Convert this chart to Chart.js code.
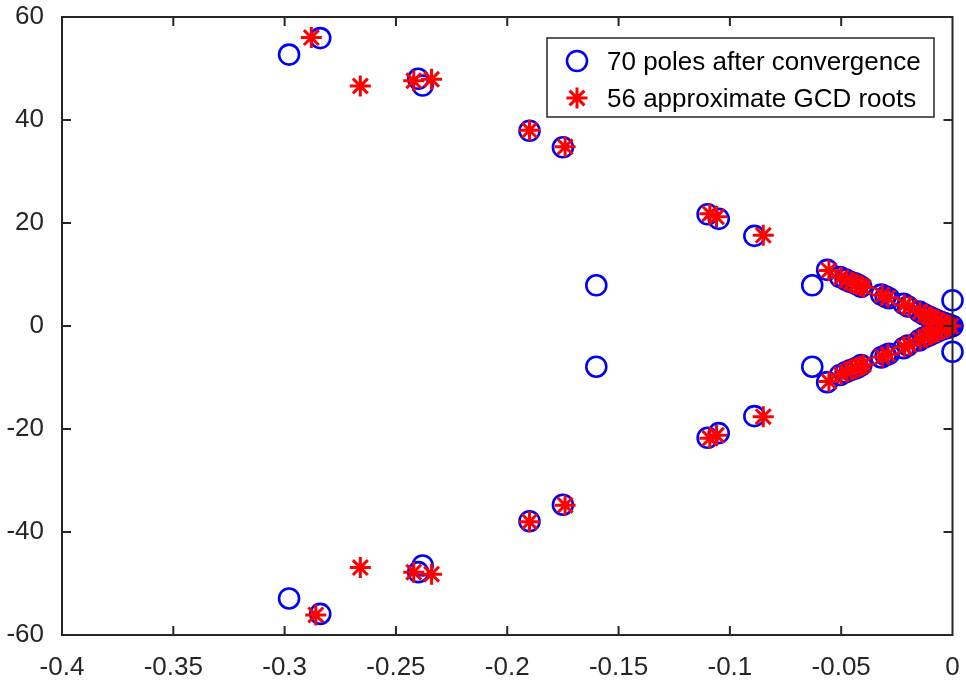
<!DOCTYPE html>
<html>
<head>
<meta charset="utf-8">
<script src="https://cdn.jsdelivr.net/npm/chart.js@4.4.0/dist/chart.umd.min.js"></script>
<style>
html, body { margin: 0; padding: 0; background: #fff; }
</style>
</head>
<body>
<canvas id="chart" width="966" height="682"></canvas>
<script>
// poles (real / imaginary parts)
var poleRe = [
    -0.298, -0.284, -0.240, -0.238, -0.190, -0.175, -0.110, -0.105, -0.089, -0.160, -0.063, 0,
    -0.298, -0.284, -0.240, -0.238, -0.190, -0.175, -0.110, -0.105, -0.089, -0.160, -0.063, 0,
    -0.0563, -0.0505, -0.0480, -0.0460, -0.0440, -0.0425, -0.0410, -0.0320, -0.0300, -0.0285, -0.0220,
    -0.0200, -0.0150, -0.0130, -0.0115, -0.0100, -0.0085, -0.0070, -0.0055, -0.0040, -0.0025, -0.0012,
    -0.0563, -0.0505, -0.0480, -0.0460, -0.0440, -0.0425, -0.0410, -0.0320, -0.0300, -0.0285, -0.0220,
    -0.0200, -0.0150, -0.0130, -0.0115, -0.0100, -0.0085, -0.0070, -0.0055, -0.0040, -0.0025, -0.0012,
    0, -0.001
];
var poleIm = [
    52.7, 55.9, 48.0, 46.7, 37.9, 34.7, 21.7, 20.8, 17.5, 7.9, 7.9, 5.0,
    -52.9, -55.9, -47.8, -46.5, -37.9, -34.7, -21.7, -20.8, -17.5, -7.9, -7.9, -5.0,
    10.9, 9.5, 9.0, 8.6, 8.3, 8.0, 7.6, 6.1, 5.7, 5.4, 4.3,
    3.8, 2.8, 2.3, 2.0, 1.7, 1.4, 1.1, 0.8, 0.6, 0.4, 0.2,
    -10.9, -9.5, -9.0, -8.6, -8.3, -8.0, -7.6, -6.1, -5.7, -5.4, -4.3,
    -3.8, -2.8, -2.3, -2.0, -1.7, -1.4, -1.1, -0.8, -0.6, -0.4, -0.2,
    0, 0
];
// approximate GCD roots
var rootRe = [
    -0.288, -0.266, -0.242, -0.234, -0.190, -0.174, -0.109, -0.106, -0.085,
    -0.286, -0.266, -0.242, -0.234, -0.190, -0.174, -0.109, -0.106, -0.085,
    -0.0555, -0.0500, -0.0475, -0.0455, -0.0435, -0.0415, -0.0400, -0.0315, -0.0290,
    -0.0215, -0.0195, -0.0145, -0.0125, -0.0105, -0.0090, -0.0070, -0.0050, -0.0030,
    -0.0555, -0.0500, -0.0475, -0.0455, -0.0435, -0.0415, -0.0400, -0.0315, -0.0290,
    -0.0215, -0.0195, -0.0145, -0.0125, -0.0105, -0.0090, -0.0070, -0.0050, -0.0030,
    -0.0022, -0.0008
];
var rootIm = [
    56.0, 46.6, 47.6, 47.9, 38.0, 34.8, 21.8, 21.2, 17.6,
    -56.1, -46.9, -47.8, -48.2, -38.0, -34.8, -21.8, -21.2, -17.6,
    10.8, 9.4, 8.9, 8.5, 8.2, 7.8, 7.5, 6.0, 5.5,
    4.1, 3.7, 2.7, 2.2, 1.8, 1.5, 1.1, 0.7, 0.4,
    -10.8, -9.4, -8.9, -8.5, -8.2, -7.8, -7.5, -6.0, -5.5,
    -4.1, -3.7, -2.7, -2.2, -1.8, -1.5, -1.1, -0.7, -0.4,
    0, 0
];
var seriesNames = ["70 poles after convergence", "56 approximate GCD roots"];
var xTicks = [-0.4, -0.35, -0.3, -0.25, -0.2, -0.15, -0.1, -0.05, 0];
var xTickLabels = ["-0.4", "-0.35", "-0.3", "-0.25", "-0.2", "-0.15", "-0.1", "-0.05", "0"];
var yTicks = [-60, -40, -20, 0, 20, 40, 60];
var yTickLabels = ["-60", "-40", "-20", "0", "20", "40", "60"];

var axisColor = '#262626';
var fontFamily = '"Liberation Sans", Arial, Helvetica, sans-serif';

function toPoints(re, im) {
    return re.map(function(v, i) { return {x: v, y: im[i]}; });
}

// box round the axes with inward ticks on all four sides
var framePlugin = {
    id: 'frame',
    afterDatasetsDraw: function(chart) {
        var ctx = chart.ctx, a = chart.chartArea;
        var xs = chart.scales.x, ys = chart.scales.y;
        var len = 9;
        ctx.save();
        ctx.strokeStyle = axisColor;
        ctx.lineWidth = 2;
        ctx.beginPath();
        ctx.rect(a.left, a.top, a.right - a.left, a.bottom - a.top);
        xTicks.forEach(function(v) {
            var px = xs.getPixelForValue(v);
            ctx.moveTo(px, a.bottom); ctx.lineTo(px, a.bottom - len);
            ctx.moveTo(px, a.top); ctx.lineTo(px, a.top + len);
        });
        yTicks.forEach(function(v) {
            var py = ys.getPixelForValue(v);
            ctx.moveTo(a.left, py); ctx.lineTo(a.left + len, py);
            ctx.moveTo(a.right, py); ctx.lineTo(a.right - len, py);
        });
        ctx.stroke();
        ctx.restore();
    },
    afterDraw: function(chart) {
        // legend box inside the axes, top right
        var ctx = chart.ctx;
        var bx = 547, by = 38, bw = 387, bh = 79;
        ctx.save();
        ctx.fillStyle = '#fff';
        ctx.fillRect(bx, by, bw, bh);
        ctx.strokeStyle = axisColor;
        ctx.lineWidth = 1.5;
        ctx.strokeRect(bx, by, bw, bh);
        chart.data.datasets.forEach(function(ds, i) {
            var cy = by + 23 + i * 37;
            ctx.strokeStyle = ds.borderColor;
            ctx.fillStyle = 'rgba(0,0,0,0)';
            ctx.lineWidth = ds.borderWidth;
            Chart.helpers.drawPoint(ctx, {
                pointStyle: ds.pointStyle,
                radius: ds.pointRadius,
                rotation: 0,
                borderWidth: ds.borderWidth
            }, 577, cy);
            ctx.fillStyle = '#000';
            ctx.font = '26px ' + fontFamily;
            ctx.textBaseline = 'middle';
            ctx.fillText(ds.label, 607, cy + 2);
        });
        ctx.restore();
    }
};

var ctx = document.getElementById('chart');
var myChart = new Chart(ctx, {
    type: 'scatter',
    data: {
        datasets: [{
            label: seriesNames[0],
            data: toPoints(poleRe, poleIm),
            pointStyle: 'circle',
            pointRadius: 10,
            borderWidth: 2.6,
            borderColor: '#0000ff',
            backgroundColor: 'rgba(0,0,0,0)',
            clip: false,
            order: 2
        }, {
            label: seriesNames[1],
            data: toPoints(rootRe, rootIm),
            pointStyle: 'star',
            pointRadius: 10.5,
            borderWidth: 3,
            borderColor: '#ff0000',
            backgroundColor: '#ff0000',
            clip: false,
            order: 1
        }]
    },
    options: {
        responsive: false,
        devicePixelRatio: 1,
        animation: false,
        layout: { padding: { top: 17, right: 9, left: 0, bottom: 0 } },
        scales: {
            x: {
                type: 'linear',
                min: -0.4,
                max: 0,
                afterBuildTicks: function(scale) {
                    scale.ticks = xTicks.map(function(v) { return {value: v}; });
                },
                afterFit: function(scale) {
                    scale.height = 47;
                    scale.paddingLeft = 0;
                    scale.paddingRight = 0;
                },
                grid: { display: false },
                border: { display: false },
                ticks: {
                    color: axisColor,
                    padding: 9,
                    maxRotation: 0,
                    font: { family: fontFamily, size: 26 },
                    callback: function(v, i) { return xTickLabels[i]; }
                }
            },
            y: {
                type: 'linear',
                min: -60,
                max: 60,
                afterBuildTicks: function(scale) {
                    scale.ticks = yTicks.map(function(v) { return {value: v}; });
                },
                afterFit: function(scale) {
                    scale.width = 62;
                    scale.paddingTop = 0;
                    scale.paddingBottom = 0;
                },
                grid: { display: false },
                border: { display: false },
                ticks: {
                    color: axisColor,
                    padding: 10,
                    font: { family: fontFamily, size: 26 },
                    callback: function(v, i) { return yTickLabels[i]; }
                }
            }
        },
        plugins: {
            legend: { display: false },
            title: { display: false },
            tooltip: { enabled: false }
        }
    },
    plugins: [framePlugin]
});
</script>
</body>
</html>
